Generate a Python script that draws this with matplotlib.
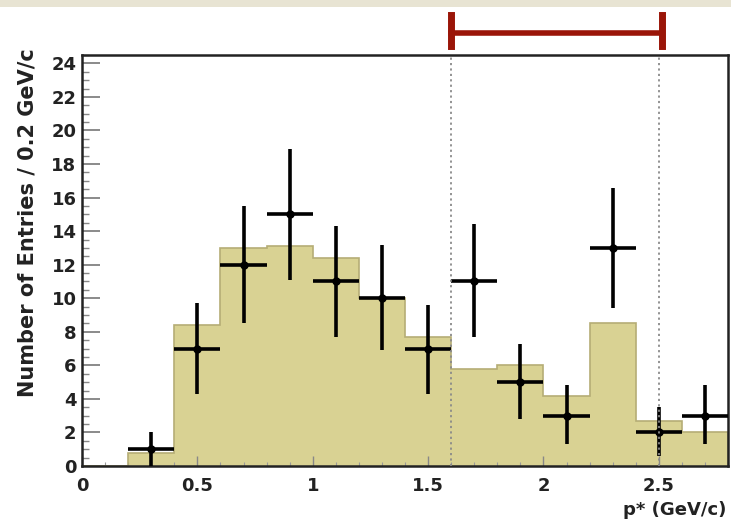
import numpy as np
import matplotlib
matplotlib.use("Agg")
import matplotlib.pyplot as plt
from matplotlib.patches import Rectangle
from matplotlib.lines import Line2D
from matplotlib.ticker import MultipleLocator

# histogram (expected distribution), 0.2 GeV/c bins
bin_edges = [0.0, 0.2, 0.4, 0.6, 0.8, 1.0, 1.2, 1.4, 1.6, 1.8, 2.0, 2.2, 2.4, 2.6, 2.8]
hist_vals = [0.0, 0.8, 8.4, 13.0, 13.1, 12.4, 10.0, 7.7, 5.8, 6.0, 4.2, 8.5, 2.7, 2.0]

# data points
pt_x = [0.3, 0.5, 0.7, 0.9, 1.1, 1.3, 1.5, 1.7, 1.9, 2.1, 2.3, 2.5, 2.7]
pt_y = [1, 7, 12, 15, 11, 10, 7, 11, 5, 3, 13, 2, 3]
err_low = [1.0, 2.7, 3.5, 3.9, 3.3, 3.1, 2.7, 3.3, 2.2, 1.7, 3.6, 1.4, 1.7]
err_high = [1.0, 2.7, 3.5, 3.9, 3.3, 3.2, 2.6, 3.4, 2.3, 1.8, 3.6, 1.5, 1.8]

# signal window
window = [1.6, 2.5]

plt.rcParams['font.family'] = ['DejaVu Sans']
plt.rcParams['font.weight'] = 'bold'

W, H = 731, 526
fig = plt.figure(figsize=(W / 100, H / 100), dpi=100)
fig.patch.set_facecolor('white')

# beige strip at the very top
fig.add_artist(Rectangle((0, 1 - 7 / H), 1, 7 / H, transform=fig.transFigure,
                         facecolor='#e8e4d3', edgecolor='none'))

ax = fig.add_axes([82 / W, (H - 466) / H, (728 - 82) / W, (466 - 55) / H])

ax.stairs(hist_vals, bin_edges, fill=True, facecolor='#d9d293', edgecolor='none', zorder=1)
ax.stairs(hist_vals, bin_edges, fill=False, edgecolor='#b5ad75', linewidth=1.2, zorder=2)

ax.errorbar(pt_x, pt_y, xerr=0.1, yerr=[err_low, err_high], fmt='o', color='black',
            ms=5, elinewidth=2.6, capsize=0, zorder=3)

for xv in window:
    ax.axvline(xv, color='#8a8a8a', linestyle=(0, (1.2, 1.8)), linewidth=1.3, zorder=4)

ax.set_xlim(0, 2.8)
ax.set_ylim(0, 24.5)

ax.xaxis.set_major_locator(MultipleLocator(0.5))
ax.xaxis.set_minor_locator(MultipleLocator(0.1))
ax.yaxis.set_major_locator(MultipleLocator(2))
ax.yaxis.set_minor_locator(MultipleLocator(0.5))
ax.xaxis.set_major_formatter(plt.FuncFormatter(lambda v, p: '%g' % v))

ax.tick_params(axis='y', which='major', direction='in', length=13, width=1.2,
               color='#777777', labelsize=13, pad=4, labelcolor='#222222')
ax.tick_params(axis='y', which='minor', direction='in', length=5, width=1.0, color='#888888')
ax.tick_params(axis='x', which='major', direction='in', length=7, width=1.0,
               color='#888888', labelsize=13, pad=8, labelcolor='#222222')
ax.tick_params(axis='x', which='minor', direction='in', length=3, width=0.8, color='#999999')

for sp in ax.spines.values():
    sp.set_linewidth(1.8)
    sp.set_color('#222222')

fig.text(28 / W, 1 - 48 / H, 'Number of Entries / 0.2 GeV/c', rotation=90,
         ha='center', va='top', fontsize=15, fontweight='bold', color='#222222')
fig.text(726 / W, 1 - 510 / H, 'p* (GeV/c)', ha='right', va='center',
         fontsize=13, fontweight='bold', color='#222222')

# red bracket marking the window
red = '#9a1508'
ytop = 1 - 33 / H
fig.add_artist(Line2D([451 / W, 662 / W], [ytop, ytop], transform=fig.transFigure,
                      color=red, linewidth=4))
for xp in (451, 662):
    fig.add_artist(Line2D([xp / W, xp / W], [1 - 15 / H, 1 - 46 / H],
                          transform=fig.transFigure, color=red, linewidth=5))

fig.savefig('out.png', dpi=100)
